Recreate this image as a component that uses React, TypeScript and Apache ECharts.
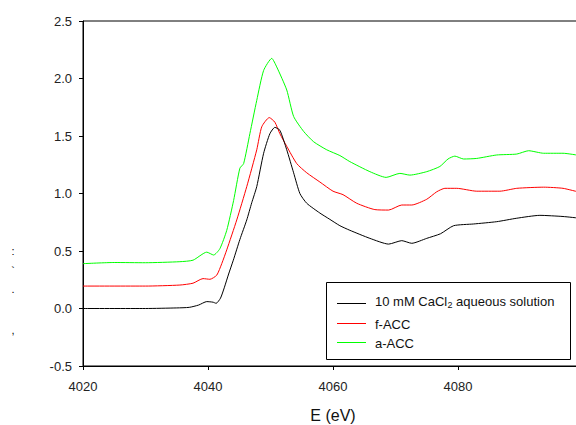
import React, { useEffect, useRef } from "react";
import * as echarts from "echarts";

const xTicks = [4020, 4040, 4060, 4080, 4100];
const yTicks = [-0.5, 0.0, 0.5, 1.0, 1.5, 2.0, 2.5];

const seriesNames = ["10 mM CaCl2 aqueous solution", "f-ACC", "a-ACC"];
const seriesColors = ["#000000", "#ff0000", "#00ff00"];

const caclE = [4020, 4030, 4035, 4037, 4038.5, 4039.8, 4040.8, 4041.3, 4042.0, 4042.6, 4043.3, 4044.05, 4045.1, 4046.2, 4047.0, 4047.8, 4048.9, 4049.9, 4050.7, 4051.5, 4052.6, 4053.7, 4054.7, 4055.8, 4057.9, 4059.5, 4061.1, 4062.7, 4065.9, 4068.9, 4071.0, 4072.6, 4075.0, 4077.2, 4079.3, 4082.5, 4086.2, 4089.4, 4093.1, 4096.8, 4099.5];
const caclVal = [0.0, 0.0, 0.005, 0.01, 0.03, 0.06, 0.055, 0.045, 0.09, 0.18, 0.3, 0.42, 0.6, 0.77, 0.92, 1.06, 1.35, 1.52, 1.575, 1.55, 1.38, 1.18, 1.0, 0.915, 0.83, 0.775, 0.72, 0.68, 0.61, 0.56, 0.59, 0.567, 0.61, 0.65, 0.72, 0.735, 0.755, 0.785, 0.81, 0.8, 0.785];

const fAccE = [4020, 4030, 4035.5, 4037.6, 4039.2, 4040.3, 4041.4, 4042.2, 4043.0, 4044.6, 4046.2, 4047.8, 4048.6, 4049.8, 4050.7, 4051.5, 4052.6, 4054.2, 4055.8, 4057.9, 4060.0, 4061.6, 4063.8, 4066.7, 4068.9, 4071.0, 4072.6, 4075.0, 4076.6, 4077.9, 4079.8, 4083.0, 4086.7, 4089.4, 4093.7, 4096.8, 4099.5];
const fAccVal = [0.195, 0.195, 0.204, 0.22, 0.26, 0.254, 0.29, 0.39, 0.51, 0.77, 1.06, 1.38, 1.58, 1.66, 1.62, 1.52, 1.41, 1.26, 1.18, 1.1, 1.02, 0.99, 0.915, 0.86, 0.856, 0.9, 0.9, 0.95, 1.015, 1.045, 1.045, 1.02, 1.02, 1.045, 1.055, 1.045, 1.01];

const aAccE = [4020, 4025, 4030, 4035.5, 4037.6, 4039.8, 4040.9, 4041.9, 4043.0, 4044.1, 4045.1, 4045.7, 4046.7, 4047.8, 4048.9, 4050.2, 4051.0, 4052.6, 4053.7, 4055.3, 4056.9, 4059.0, 4061.1, 4062.7, 4065.9, 4068.5, 4070.7, 4072.3, 4075.0, 4077.1, 4078.4, 4079.5, 4080.9, 4083.0, 4086.2, 4089.4, 4091.3, 4093.7, 4096.8, 4099.5];
const aAccVal = [0.39, 0.4, 0.398, 0.407, 0.42, 0.49, 0.465, 0.52, 0.68, 0.94, 1.22, 1.26, 1.52, 1.81, 2.07, 2.175, 2.1, 1.9, 1.67, 1.54, 1.45, 1.38, 1.33, 1.277, 1.19, 1.14, 1.175, 1.16, 1.19, 1.235, 1.3, 1.325, 1.3, 1.305, 1.335, 1.343, 1.372, 1.35, 1.35, 1.33];

const yTitleMarks = [":", "`", ".", ","];

const pair = (xs: number[], ys: number[]) => xs.map((x, i) => [x, ys[i]]);

export default function App() {
  const ref = useRef<HTMLDivElement>(null);
  useEffect(() => {
    document.body.style.margin = "0";
    const chart = echarts.init(ref.current!, undefined, { renderer: "svg" });
    const font = "Liberation Sans, Arial, sans-serif";
    const datasets = [pair(caclE, caclVal), pair(fAccE, fAccVal), pair(aAccE, aAccVal)];
    const legendRows = [303, 323, 342];
    const markY = [251, 271, 289, 330];
    chart.setOption({
      animation: false,
      backgroundColor: "#ffffff",
      grid: {
        left: 83,
        top: 21,
        width: 500,
        height: 345,
        show: true,
        borderColor: "#000000",
        borderWidth: 1,
        backgroundColor: "transparent",
        containLabel: false,
        outerBoundsMode: "none",
      },
      xAxis: {
        type: "value",
        min: xTicks[0],
        max: xTicks[xTicks.length - 1],
        interval: 20,
        name: "E (eV)",
        nameLocation: "middle",
        nameGap: 41,
        nameTextStyle: { fontFamily: font, fontSize: 16, color: "#111" },
        axisLine: { show: true, onZero: false, lineStyle: { color: "#000", width: 1 } },
        axisTick: { show: true, length: 4, lineStyle: { color: "#000" } },
        axisLabel: {
          fontFamily: font,
          fontSize: 13,
          color: "#222",
          margin: 14,
          formatter: (v: number) => (v >= xTicks[xTicks.length - 1] ? "" : String(v)),
        },
        splitLine: { show: false },
      },
      yAxis: {
        type: "value",
        min: yTicks[0],
        max: yTicks[yTicks.length - 1],
        interval: 0.5,
        axisLine: { show: true, onZero: false, lineStyle: { color: "#000", width: 1 } },
        axisTick: { show: true, length: 4, lineStyle: { color: "#000" } },
        axisLabel: {
          fontFamily: font,
          fontSize: 13,
          color: "#222",
          margin: 11,
          formatter: (v: number) => v.toFixed(1),
        },
        splitLine: { show: false },
      },
      series: datasets.map((d, i) => ({
        name: seriesNames[i],
        type: "line",
        data: d,
        showSymbol: false,
        smooth: 0.2,
        lineStyle: { color: seriesColors[i], width: 1 },
        itemStyle: { color: seriesColors[i] },
        z: 3 - i,
      })),
      graphic: [
        {
          type: "rect",
          shape: { x: 326.5, y: 282.5, width: 244, height: 77 },
          style: { fill: "#ffffff", stroke: "#000000", lineWidth: 1 },
          z: 100,
        },
        ...legendRows.map((y, i) => ({
          type: "line",
          shape: { x1: 337, y1: y + 0.5, x2: 366, y2: y + 0.5 },
          style: { stroke: seriesColors[i], lineWidth: 1 },
          z: 101,
        })),
        {
          type: "text",
          x: 375,
          y: 301,
          style: { text: "10 mM CaCl", fontFamily: font, fontSize: 13, fill: "#111", verticalAlign: "middle" },
          z: 101,
        },
        {
          type: "text",
          x: 447.5,
          y: 305,
          style: { text: "2", fontFamily: font, fontSize: 9, fill: "#111", verticalAlign: "middle" },
          z: 101,
        },
        {
          type: "text",
          x: 452.5,
          y: 301,
          style: { text: " aqueous solution", fontFamily: font, fontSize: 13, fill: "#111", verticalAlign: "middle" },
          z: 101,
        },
        {
          type: "text",
          x: 375,
          y: 324,
          style: { text: seriesNames[1], fontFamily: font, fontSize: 13, fill: "#111", verticalAlign: "middle" },
          z: 101,
        },
        {
          type: "text",
          x: 375,
          y: 343,
          style: { text: seriesNames[2], fontFamily: font, fontSize: 13, fill: "#111", verticalAlign: "middle" },
          z: 101,
        },
        ...yTitleMarks.map((m, i) => ({
          type: "text",
          x: 13,
          y: markY[i],
          style: { text: m, fontFamily: font, fontSize: 11, fill: "#000", align: "center", verticalAlign: "middle" },
        })),
      ],
    });
    return () => chart.dispose();
  }, []);
  return <div ref={ref} style={{ width: 576, height: 425 }} />;
}
